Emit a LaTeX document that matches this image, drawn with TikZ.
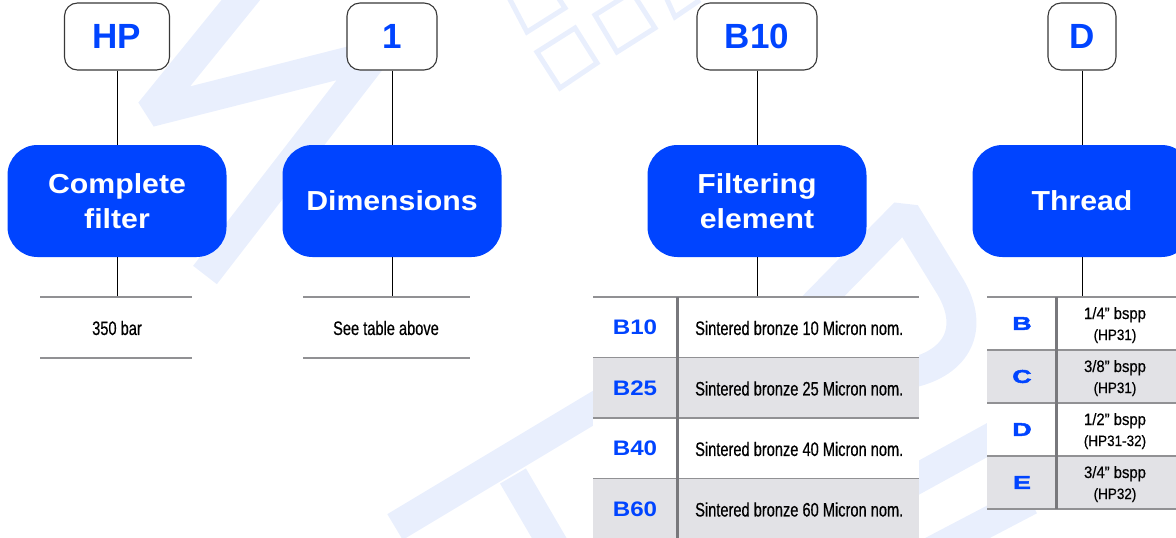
\documentclass[tikz,border=0pt]{standalone}
\usepackage{fontspec}
\setmainfont{Liberation Sans}
\newfontfamily\narrowfont[FakeStretch=0.75,FakeBold=0.5]{Liberation Sans}
\newfontfamily\thinfont[FakeStretch=0.9,FakeBold=0.5]{Liberation Sans}
\newfontfamily\widefont[FakeStretch=1.1]{Liberation Sans}
\newfontfamily\extfont[FakeStretch=1.15]{Liberation Sans}
\newfontfamily\blackfont[FakeStretch=1.45,FakeBold=2.5]{Liberation Sans}
\definecolor{codeblue}{RGB}{0,68,255}
\definecolor{rowgrey}{RGB}{226,226,230}
\definecolor{rulegrey}{RGB}{145,145,148}
\definecolor{divgrey}{RGB}{120,120,124}
\definecolor{markblue}{RGB}{233,239,253}

\begin{document}
\begin{tikzpicture}[x=1pt,y=-1pt]
\tikzstyle{every node}+=[inner sep=0pt]
\tikzstyle{codebox}=[draw=black!78,line width=1.1pt,rounded corners=13pt,fill=white,minimum height=67pt,text=codeblue,font=\fontsize{35}{40}\selectfont\bfseries]
\tikzstyle{groupbox}=[fill=codeblue,rounded corners=30pt,minimum width=219pt,minimum height=112pt,text=white,align=center,font=\widefont\fontsize{27.5}{35}\selectfont\bfseries]
\tikzstyle{link}=[black,line width=1pt]
\tikzstyle{rule}=[rulegrey,line width=1.3pt]
\tikzstyle{divider}=[divgrey,line width=3pt]
\tikzstyle{desc}=[font=\narrowfont\fontsize{19.5}{22}\selectfont]
\tikzstyle{fcode}=[text=codeblue,font=\extfont\fontsize{21}{24}\selectfont\bfseries]
\tikzstyle{tcode}=[text=codeblue,font=\blackfont\fontsize{18.5}{20}\selectfont\bfseries]
\tikzstyle{wmband}=[markblue,line width=30pt,line join=bevel]
\tikzstyle{wmthin}=[markblue,line width=5pt]

\clip (0,0) rectangle (1176,538);

\draw[wmband] (253,-15) -- (150,112) -- (375,55) -- (205,275);
\draw[wmthin] (537,52) -- (575,28) -- (597,63) -- (560,88) -- cycle;
\draw[wmthin] (595,15) -- (632,-8) -- (655,28) -- (617,52) -- cycle;
\draw[wmthin] (505,-10) -- (527,32) -- (565,8) -- (552,-12);
\draw[wmthin] (665,-5) -- (675,17) -- (700,0);
\draw[wmband] (395,527) -- (640,380);
\draw[wmband] (513,476) -- (562,560);
\draw[wmband] (800,320) -- (905,213) -- (948,283) .. controls (975,325) and (960,360) .. (915,372);
\draw[wmband] (900,488) -- (1000,433);
\draw[wmband] (925,555) -- (1030,500);

\node[codebox,minimum width=105pt] (hp) at (117,36.5) {HP};
\node[codebox,minimum width=90pt] (dim) at (392,36.5) {1};
\node[codebox,minimum width=120pt] (elem) at (757,36.5) {B10};
\node[codebox,minimum width=68pt] (thr) at (1082,36.5) {D};

\node[groupbox] (cf) at (117,201) {Complete\\filter};
\node[groupbox] (dims) at (392,201) {Dimensions};
\node[groupbox] (fe) at (757,201) {Filtering\\element};
\node[groupbox] (thread) at (1082,201) {Thread};

\draw[link] (hp) -- (cf);
\draw[link] (dim) -- (dims);
\draw[link] (elem) -- (fe);
\draw[link] (thr) -- (thread);

\coordinate (cfend) at (117,297);
\coordinate (dimsend) at (392,297);
\coordinate (feend) at (757,297);
\coordinate (threadend) at (1082,297);
\draw[link] (cf) -- (cfend);
\draw[link] (dims) -- (dimsend);
\draw[link] (fe) -- (feend);
\draw[link] (thread) -- (threadend);

\draw[rule] (40,297) -- (192,297);
\draw[rule] (40,358) -- (192,358);
\node[desc] (bar) at (117,328) {350 bar};
\draw[rule] (303,297) -- (470,297);
\draw[rule] (303,358) -- (470,358);
\node[desc] (seetab) at (386,328) {See table above};

\foreach \mic/\shade [count=\i from 0] in {10/white,25/rowgrey,40/white,60/rowgrey}{
  \pgfmathsetmacro\rowtop{297+60.5*\i}
  \fill[\shade] (593,\rowtop) rectangle (919,\rowtop+60.5);
  \draw[rule] (593,\rowtop) -- (919,\rowtop);
  \node[fcode] (fc\mic) at (635,\rowtop+30.5) {B\mic};
  \node[desc,anchor=west] (fd\mic) at (695,\rowtop+31) {Sintered bronze \mic\ Micron nom.};
}
\draw[divider] (677,297) -- (677,540);

\foreach \code/\size/\model/\shade [count=\i from 0] in {B/{1/4}/HP31/white,C/{3/8}/HP31/rowgrey,D/{1/2}/HP31-32/white,E/{3/4}/HP32/rowgrey}{
  \pgfmathsetmacro\rowtop{297+53*\i}
  \fill[\shade] (987,\rowtop) rectangle (1176,\rowtop+53);
  \draw[rule] (987,\rowtop) -- (1176,\rowtop);
  \node[tcode] (tc\code) at (1022,\rowtop+26.5) {\code};
  \node[anchor=base,font=\thinfont\fontsize{16.5}{18}\selectfont] (ts\code) at (1115,\rowtop+22) {\size” bspp};
  \node[anchor=base,font=\thinfont\fontsize{15}{16}\selectfont] (tm\code) at (1115,\rowtop+43) {(\model)};
}
\draw[rule] (987,509) -- (1176,509);
\draw[divider] (1056,297) -- (1056,509);
\end{tikzpicture}
\end{document}
